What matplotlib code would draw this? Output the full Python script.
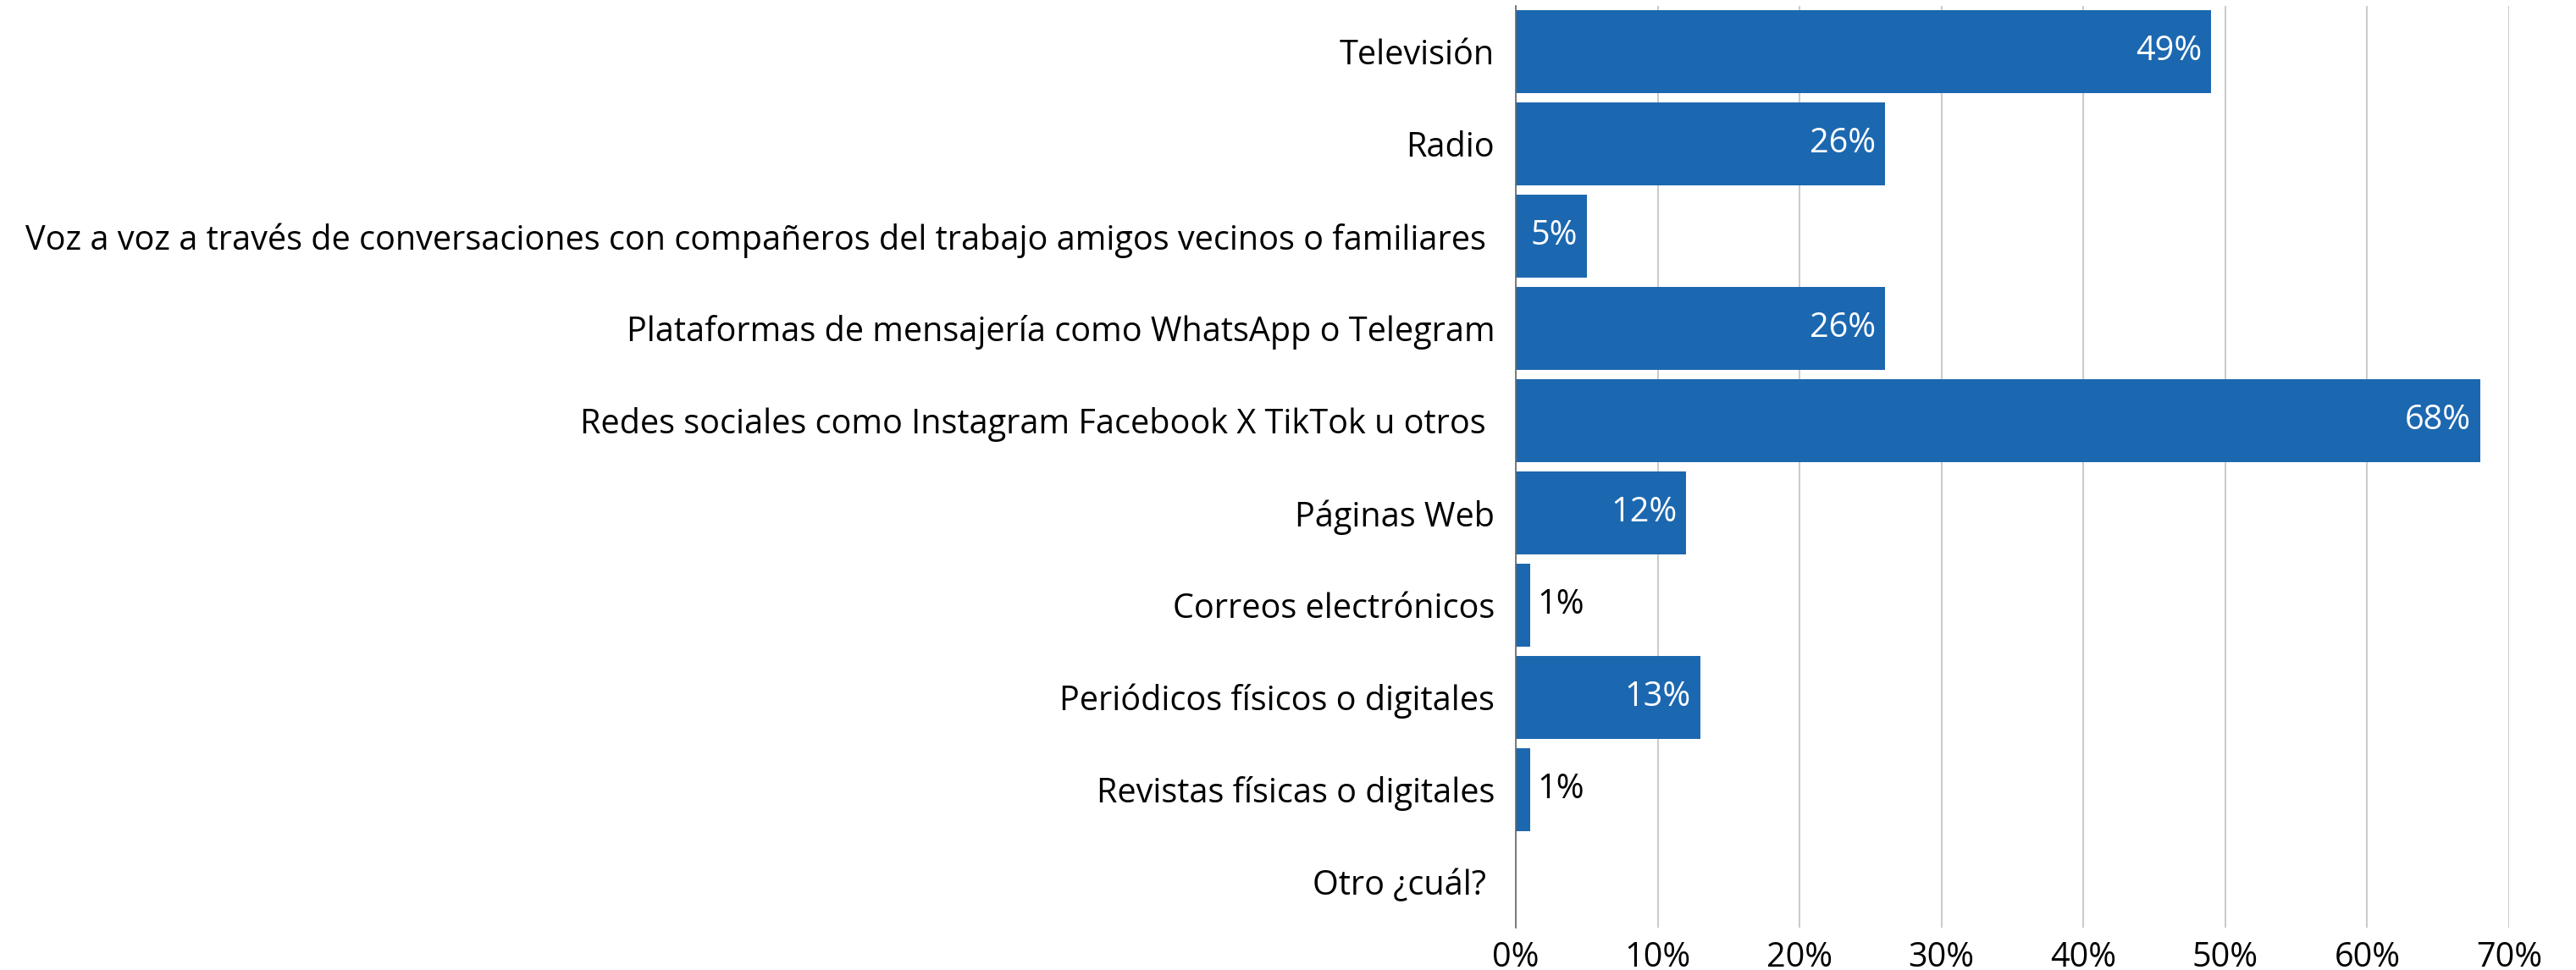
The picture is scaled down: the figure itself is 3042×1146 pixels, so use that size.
import matplotlib
matplotlib.use("Agg")
import matplotlib.pyplot as plt
from matplotlib.ticker import PercentFormatter

categories = [
    "Televisión",
    "Radio",
    "Voz a voz a través de conversaciones con compañeros del trabajo amigos vecinos o familiares ",
    "Plataformas de mensajería como WhatsApp o Telegram",
    "Redes sociales como Instagram Facebook X TikTok u otros ",
    "Páginas Web",
    "Correos electrónicos",
    "Periódicos físicos o digitales",
    "Revistas físicas o digitales",
    "Otro ¿cuál? ",
]
values = [49, 26, 5, 26, 68, 12, 1, 13, 1, 0]
ticks = [0, 10, 20, 30, 40, 50, 60, 70]

plt.rcParams['font.family'] = ['Open Sans', 'DejaVu Sans']
color = '#1c68b0'
fs = 28.5

fig = plt.figure(figsize=(30.42, 11.46), dpi=100)
ax = fig.add_axes([0.5885, 0.0436, 0.3855, 0.9507])

y = list(range(len(categories)))
ax.barh(y, values, height=0.9, color=color, zorder=2)
ax.set_yticks(y)
ax.set_yticklabels(categories, fontsize=fs)
ax.set_ylim(len(categories) - 0.5, -0.5)
ax.set_xlim(0, 70)
ax.set_xticks(ticks)
ax.xaxis.set_major_formatter(PercentFormatter(decimals=0))
ax.tick_params(axis='x', labelsize=fs, length=0, pad=11)
ax.tick_params(axis='y', length=0, pad=18)
ax.grid(axis='x', color='#cccccc', linewidth=1.5, zorder=0)
for s in ['top', 'right', 'bottom']:
    ax.spines[s].set_visible(False)
ax.spines['left'].set_color('#666666')
ax.spines['left'].set_linewidth(1.2)
ax.spines['left'].set_zorder(3)

for yi, v in zip(y, values):
    if v == 0:
        continue
    if v >= 5:
        ax.annotate(f"{v}%", (v, yi), xytext=(-8, 0), textcoords='offset points',
                    ha='right', va='center', color='white', fontsize=fs, zorder=4)
    else:
        ax.annotate(f"{v}%", (v, yi), xytext=(6, 0), textcoords='offset points',
                    ha='left', va='center', color='black', fontsize=fs, zorder=4)

fig.savefig('out.png', dpi=100)
